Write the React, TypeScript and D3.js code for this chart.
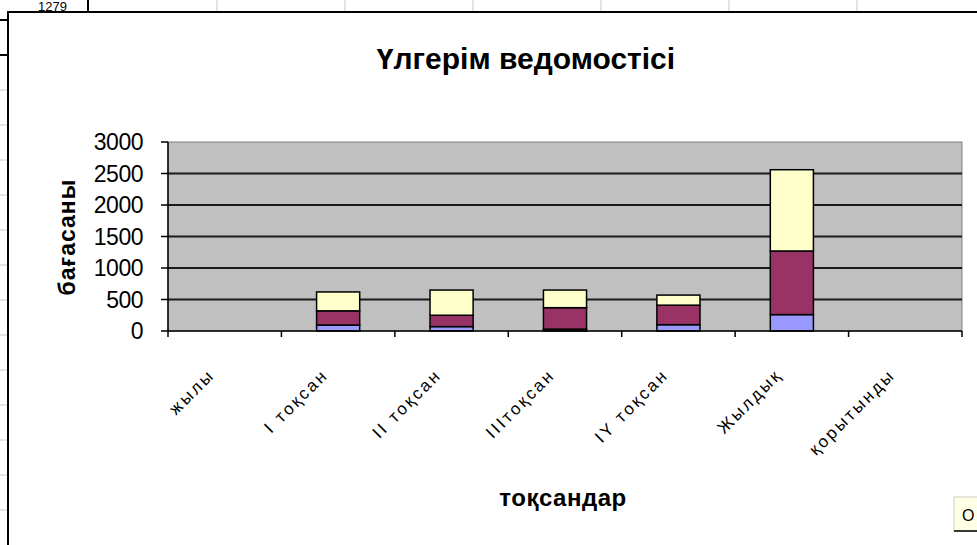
import React from 'react';
import * as d3 from 'd3';

// chart data
const categories = ['жылы', 'I тоқсан', 'II тоқсан', 'IIIтоқсан', 'IY тоқсан', 'Жылдық', 'қорытынды'];
const seriesKeys = ['s5', 's4', 's3'];
const blueValues = [0, 95, 70, 30, 100, 260, 0];
const maroonValues = [0, 225, 180, 340, 310, 1010, 0];
const yellowValues = [0, 300, 400, 280, 160, 1290, 0];
const yTicks = [0, 500, 1000, 1500, 2000, 2500, 3000];
const seriesColors = ['#9999FF', '#993366', '#FFFFCC'];

const title = 'Үлгерім ведомостісі';
const yTitle = 'бағасаны';
const xTitle = 'тоқсандар';

const width = 977;
const height = 545;
const plot = { left: 168, right: 962, top: 142, bottom: 331 };

const font = '"Liberation Sans", Arial, sans-serif';

export default function App() {
  const rows = categories.map((c, i) => ({
    cat: c,
    s5: blueValues[i],
    s4: maroonValues[i],
    s3: yellowValues[i],
  }));
  const stacked = d3.stack<any>().keys(seriesKeys)(rows);

  const x = d3.scaleBand<string>().domain(categories).range([plot.left, plot.right]).paddingInner(0).paddingOuter(0);
  const y = d3.scaleLinear().domain([0, 3000]).range([plot.bottom, plot.top]);
  const barW = x.bandwidth() * 0.38;

  // spreadsheet grid showing round the chart
  const colX = [88, 217, 345, 473, 601, 729, 857];
  const rowY = d3.range(20, 545, 35);

  return (
    <div style={{ position: 'absolute', left: 0, top: 0 }}>
      <svg width={width} height={height} style={{ display: 'block', fontFamily: font }}>
        <rect width={width} height={height} fill="#fff" />
        {colX.map((cx, i) => (
          <line key={'c' + i} x1={cx} x2={cx} y1={0} y2={12} stroke={i === 0 ? '#000' : '#c8c8c8'} strokeWidth={i === 0 ? 2 : 1} />
        ))}
        <text x={38} y={11} fontSize={13} fill="#000">1279</text>
        {rowY.map((ry, i) => (
          <line key={'r' + i} x1={0} x2={8} y1={ry} y2={ry} stroke={i < 2 ? '#000' : '#c8c8c8'} strokeWidth={i < 2 ? 2 : 1} />
        ))}

        {/* chart frame */}
        <rect x={8} y={12} width={1000} height={600} fill="#fff" stroke="#000" strokeWidth={2} />

        <text x={526} y={69} textAnchor="middle" fontSize={30} fontWeight="bold" fill="#000">{title}</text>

        {/* plot area */}
        <rect x={plot.left} y={plot.top} width={plot.right - plot.left} height={plot.bottom - plot.top} fill="#C0C0C0" stroke="#808080" strokeWidth={1} />
        {yTicks.filter(t => t > 0 && t < 3000).map(t => (
          <line key={t} x1={plot.left} x2={plot.right} y1={y(t)} y2={y(t)} stroke="#1a1a1a" strokeWidth={2} />
        ))}

        {/* bars */}
        {stacked.map((s, si) => (
          <g key={s.key} fill={seriesColors[si]} stroke="#000" strokeWidth={1.5}>
            {s.map((d, i) => {
              if (d[1] - d[0] <= 0) return null;
              const cx = (x(categories[i]) as number) + x.bandwidth() / 2;
              return <rect key={i} x={cx - barW / 2} y={y(d[1])} width={barW} height={y(d[0]) - y(d[1])} />;
            })}
          </g>
        ))}

        {/* y axis */}
        <line x1={plot.left} x2={plot.left} y1={plot.top} y2={plot.bottom} stroke="#000" strokeWidth={1.5} />
        {yTicks.map(t => (
          <g key={'yt' + t}>
            <line x1={plot.left - 7} x2={plot.left} y1={y(t)} y2={y(t)} stroke="#000" strokeWidth={1.5} />
            <text x={143} y={y(t) + 8} textAnchor="end" fontSize={23} letterSpacing={-0.5} fill="#000">{t}</text>
          </g>
        ))}

        {/* x axis */}
        <line x1={plot.left} x2={plot.right} y1={plot.bottom} y2={plot.bottom} stroke="#000" strokeWidth={1.5} />
        {d3.range(categories.length + 1).map(i => {
          const tx = plot.left + i * x.bandwidth();
          return <line key={'xt' + i} x1={tx} x2={tx} y1={plot.bottom} y2={plot.bottom + 6} stroke="#000" strokeWidth={1.5} />;
        })}
        {categories.map(c => {
          const cx = (x(c) as number) + x.bandwidth() / 2;
          return (
            <text key={c} transform={`translate(${cx - 9},${376}) rotate(-45)`} textAnchor="end" fontSize={17} letterSpacing={2.6} fill="#000">{c}</text>
          );
        })}

        <text transform={`translate(75,237) rotate(-90)`} textAnchor="middle" fontSize={23} fontWeight="bold" letterSpacing={1} fill="#000">{yTitle}</text>
        <text x={563} y={506} textAnchor="middle" fontSize={24} fontWeight="bold" letterSpacing={0.5} fill="#000">{xTitle}</text>

        {/* tooltip-ish box at bottom right */}
        <rect x={954} y={497} width={30} height={34} fill="#FFFFE6" stroke="#999" strokeWidth={0.5} />
        <line x1={954} x2={977} y1={531} y2={531} stroke="#000" strokeWidth={1.5} />
        <text x={962} y={521} fontSize={16} fill="#000">О</text>
      </svg>
    </div>
  );
}
